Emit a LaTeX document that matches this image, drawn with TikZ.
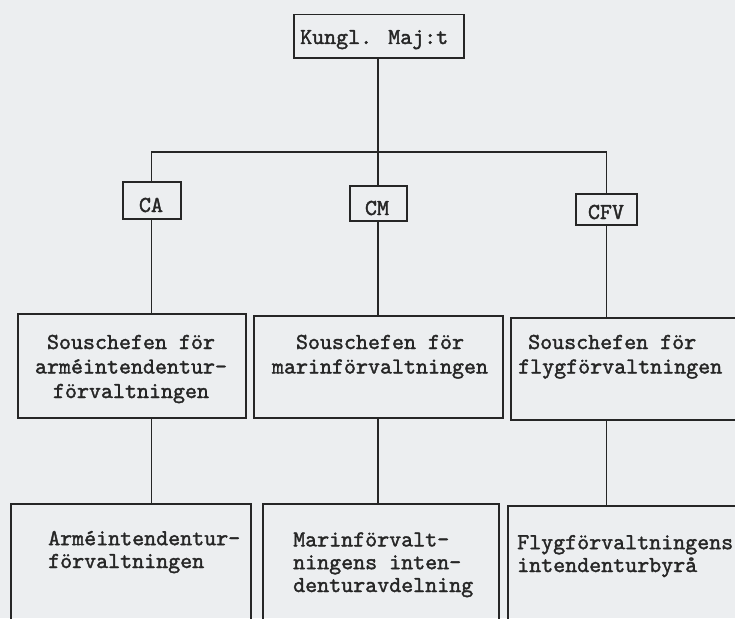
\documentclass[tikz,border=0pt]{standalone}
\usepackage{fontspec}
\newfontfamily\tw{lmmono10-regular.otf}[RawFeature={embolden=1.6}]
\definecolor{ink}{HTML}{262626}
\definecolor{paper}{HTML}{ECEEF0}
\begin{document}
\begin{tikzpicture}[x=1pt,y=-1pt,
  box/.style={draw=ink, line width=1.5pt, rectangle, inner sep=0pt, anchor=north west},
  link/.style={draw=ink, line width=1.3pt},
  lbl/.style={inner sep=0pt, text=ink, anchor=base, font=\tw\fontsize{22.86}{24.5}\selectfont},
  lbll/.style={inner sep=0pt, text=ink, anchor=base west, align=left, font=\tw\fontsize{22.86}{22.8}\selectfont}]
\useasboundingbox (0,0) rectangle (735,618);
\fill[paper] (0,0) rectangle (735,618);
\clip (0,0) rectangle (735,618);
% boxes
\node[box, minimum width=170pt, minimum height=43pt] (K) at (293,14) {};
\node[box, minimum width=58pt, minimum height=37pt] (CA) at (122,181) {};
\node[box, minimum width=57pt, minimum height=35pt] (CM) at (349,185) {};
\node[box, minimum width=61pt, minimum height=31pt] (CFV) at (575,193) {};
\node[box, minimum width=228pt, minimum height=104pt] (S1) at (17,313) {};
\node[box, minimum width=249pt, minimum height=102pt] (S2) at (253,315) {};
\node[box, minimum width=240pt, minimum height=102pt] (S3) at (510,317) {};
\node[box, minimum width=240pt, minimum height=140pt] (B1) at (10,503) {};
\node[box, minimum width=236pt, minimum height=140pt] (B2) at (262,503) {};
\node[box, minimum width=250pt, minimum height=140pt] (B3) at (507,505) {};
% texts (base = baseline of the last line)
\node[lbl, anchor=base west] (Kt) at (300,44) {Kungl. Maj:t};
\node[lbl] (CAt) at (151,212) {CA};
\node[lbl] (CMt) at (377,215) {CM};
\node[lbl] (CFVt) at (606,219) {CFV};
\node[lbl, align=center] (S1t) at (131,398) {Souschefen för\\arméintendentur-\\förvaltningen};
\node[lbl, align=center] (S2t) at (380,373.5) {Souschefen för\\marinförvaltningen};
\node[lbl, align=left, anchor=base west] (S3t) at (518,373.5) {\hspace{10pt}Souschefen för\\flygförvaltningen};
\node[lbll] (B1t) at (48,568) {Arméintendentur-\\förvaltningen};
\node[lbll] (B2t) at (293,592) {Marinförvalt-\\ningens inten-\\denturavdelning};
\node[lbll] (B3t) at (517,572) {Flygförvaltningens\\intendenturbyrå};
% connectors
\coordinate (bus) at (378,152);
\draw[link] (K.south -| bus) -- (bus);
\draw[link] (CA.north) |- (bus) -| (CFV.north);
\draw[link] (bus) -- (bus |- CM.north);
\draw[link] (CA.south) -- (CA.south |- S1.north);
\draw[link] (CM.south -| bus) -- (bus |- S2.north);
\draw[link] (CFV.south) -- (CFV.south |- S3.north);
\draw[link] (S1.south -| CA.south) -- (CA.south |- B1.north);
\draw[link] (S2.south -| bus) -- (bus |- B2.north);
\draw[link] (S3.south -| CFV.south) -- (CFV.south |- B3.north);
\end{tikzpicture}
\end{document}
